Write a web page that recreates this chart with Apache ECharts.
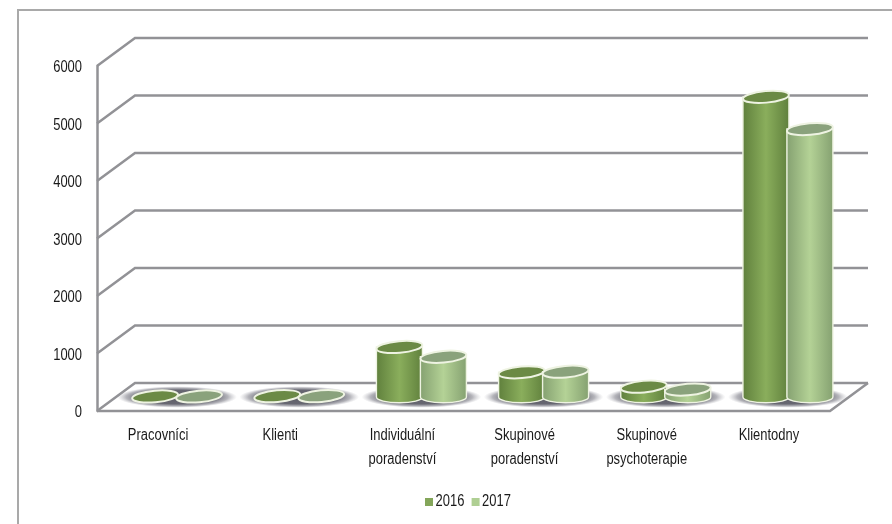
<!DOCTYPE html>
<html><head><meta charset="utf-8">
<style>html,body{margin:0;padding:0;background:#fff}#c{width:892px;height:524px}</style>
<script src="https://cdn.jsdelivr.net/npm/echarts@6/dist/echarts.min.js"></script>
</head><body><div id="c"></div>
<script>
const categories = ['Pracovníci','Klienti','Individuální\nporadenství','Skupinové\nporadenství','Skupinové\npsychoterapie','Klientodny'];
const years = ['2016','2017'];
const values2016 = [10, 15, 870, 430, 180, 5220];
const values2017 = [10, 15, 700, 440, 130, 4660];
const yTicks = [0,1000,2000,3000,4000,5000,6000];

const DX = 38, DY = 28;            // depth of the pseudo-3D box
const FONT = '"Liberation Sans",sans-serif';
const TEXT_SQUEEZE = 0.81;         // the reference face is condensed
const GRID = '#929296';
const chart = echarts.init(document.getElementById('c'));

function wall(params, api){
  const v = api.value(0);
  const a = api.coord([0, v]), b = api.coord([categories.length-1, v]);
  const bw = api.size([1,0])[0];
  const x0 = a[0]-bw/2, x1 = b[0]+bw/2, y = a[1];
  const st = {stroke:GRID, lineWidth:2.5, fill:null};
  const kids = [
    {type:'polyline', shape:{points:[[x0,y],[x0+DX,y-DY],[x1+DX,y-DY]]}, style:st}
  ];
  if (v === 0) kids.push({type:'polyline', shape:{points:[[x0,y],[x1,y],[x1+DX,y-DY]]}, style:st});
  return {type:'group', children:kids};
}
function shadow(params, api){
  const c = api.coord([api.value(0), 0]);
  const bw = api.size([1,0])[0];
  return {type:'circle', x:c[0]+DX/2, y:c[1]-DY/2, scaleY:0.18, shape:{cx:0, cy:0, r:bw*0.49},
    style:{fill:new echarts.graphic.RadialGradient(0.5,0.5,0.5,[
      {offset:0, color:'#5e5e68'},{offset:0.65, color:'rgba(95,95,106,0.95)'},{offset:0.85, color:'rgba(130,130,140,0.6)'},{offset:1, color:'rgba(170,170,178,0)'}])}};
}
function cylinder(offset, colors){
  return function(params, api){
    const i = api.value(0), v = api.value(1);
    const bw = api.size([1,0])[0];
    const base = api.coord([i, 0]), top = api.coord([i, v]);
    const cx = base[0] + DX/2 + offset*bw, rx = 23, ry = 5.8;
    const yb = base[1] - DY/2, yt = top[1] - DY/2;
    const grad = new echarts.graphic.LinearGradient(0,0,1,0,[
      {offset:0, color:colors[0]},{offset:0.5, color:colors[1]},{offset:1, color:colors[0]}]);
    const outline = '#eef3e2';
    const kids = [];
    if (yb - yt > 1.5) {
      kids.push({type:'path',
        shape:{pathData:`M${cx-rx} ${yt} L${cx-rx} ${yb} A${rx} ${ry} 0 0 0 ${cx+rx} ${yb} L${cx+rx} ${yt} Z`},
        style:{fill:grad, stroke:outline, lineWidth:1.4}});
    }
    kids.push({type:'ellipse', shape:{cx:0, cy:0, rx:rx, ry:ry}, x:cx, y:yt, rotation:5*Math.PI/180,
      style:{fill:colors[2], stroke:outline, lineWidth:2}});
    return {type:'group', children:kids};
  };
}
const c2016 = ['#5f7f3c','#8aae5c','#6b8a45'];
const c2017 = ['#84a070','#b4d296','#8aa27c'];

chart.setOption({
  animation:false,
  backgroundColor:'#fff',
  textStyle:{fontFamily:FONT},
  graphic:[{type:'polyline', silent:true, z:-1,
    shape:{points:[[892,10],[18,10],[18,524]]}, style:{stroke:'#a9a9a9', lineWidth:2, fill:null}}],
  grid:{left:97, right:62, top:66, bottom:113, containLabel:false},
  legend:{show:true, data:years, left:420, top:489, itemWidth:8, itemHeight:8, itemGap:-2, icon:'rect', itemStyle:{borderWidth:0},
    textStyle:{fontFamily:FONT, fontSize:16, color:'#1a1a1a'}},
  xAxis:{type:'category', data:categories, axisLine:{show:false}, axisTick:{show:false},
    axisLabel:{color:'#1a1a1a', fontFamily:FONT, fontSize:16, lineHeight:24, margin:13, interval:0}},
  yAxis:{type:'value', min:0, max:6000, interval:1000, axisLine:{show:true, lineStyle:{color:GRID, width:2.5}},
    axisTick:{show:false}, splitLine:{show:false},
    axisLabel:{color:'#1a1a1a', fontFamily:FONT, fontSize:16, margin:15, formatter:v=>String(v)}},
  series:[
    {type:'custom', name:'walls', data:yTicks.map(v=>[v]), renderItem:wall, silent:true, z:1, encode:{y:0}},
    {type:'custom', name:'floor', data:categories.map((c,i)=>[i]), renderItem:shadow, silent:true, z:2, encode:{x:0}},
    {type:'custom', name:years[0], data:values2016.map((v,i)=>[i,v]), renderItem:cylinder(-0.18,c2016), z:3,
      itemStyle:{color:'#84a65a'}, encode:{x:0,y:1}},
    {type:'custom', name:years[1], data:values2017.map((v,i)=>[i,v]), renderItem:cylinder(0.18,c2017), z:4,
      itemStyle:{color:'#afcf93'}, encode:{x:0,y:1}}
  ]
});

// condense all axis and legend labels horizontally; nudge y tick labels onto their ticks
const zr = chart.getZr();
const seen = new Set();
zr.storage.getDisplayList(true, true).forEach(el => {
  const p = el.parent;
  if (el.style && typeof el.style.text === 'string' && p && !seen.has(p)) {
    seen.add(p);
    p.scaleX = TEXT_SQUEEZE;
    if (yTicks.map(String).includes(el.style.text)) p.y += 2;
    p.markRedraw();
  }
});
zr.refreshImmediately();
</script></body></html>
